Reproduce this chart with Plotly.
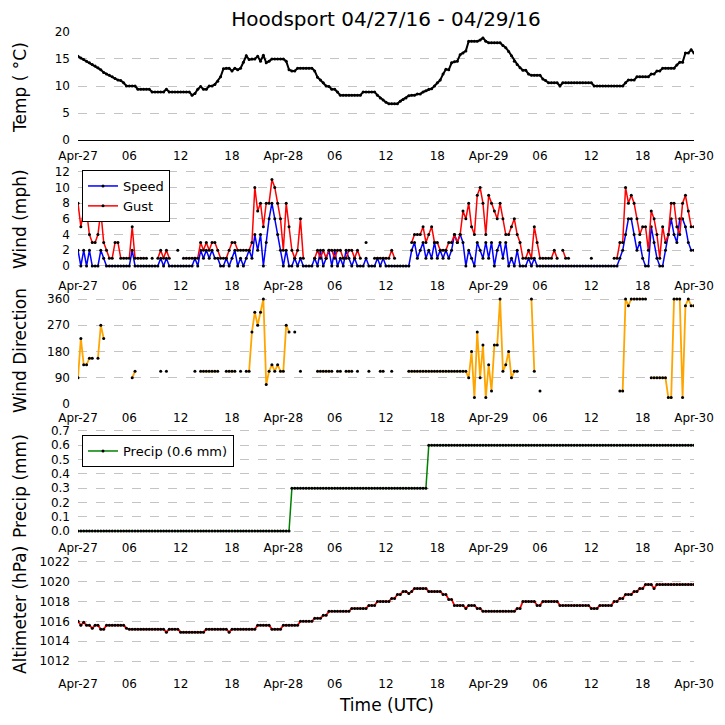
"""
Hoodsport station plot: temp, wind, wind direction, precip, altimeter.
"""

import pandas as pd
import plotly.graph_objects as go

N = None

# 20-minute samples from 2016-04-27 00:00 UTC to 2016-04-30 00:00 UTC (one row per hour)
temp_c = [
    15.5, 15.2, 14.9, 14.6, 14.3, 14.0, 13.7, 13.4, 13.0, 12.5, 12.2, 12.0,
    11.7, 11.4, 11.1, 11.0, 10.6, 10.0, 10.0, 10.0, 10.0, 9.4, 9.4, 9.4,
    9.4, 9.4, 8.9, 8.9, 8.9, 8.9, 8.9, 9.4, 8.9, 8.9, 8.9, 8.9,
    8.9, 8.9, 8.9, 8.9, 8.3, 8.6, 9.4, 9.9, 9.4, 9.4, 10.0, 10.0,
    10.3, 10.9, 11.7, 13.2, 13.3, 13.3, 12.8, 13.3, 13.0, 13.3, 14.4, 15.6,
    14.9, 15.0, 15.0, 15.5, 14.6, 15.7, 14.3, 14.6, 15.0, 15.0, 15.0, 15.0,
    15.0, 14.6, 13.0, 12.8, 12.8, 13.3, 13.3, 13.3, 13.3, 13.3, 13.3, 12.8,
    11.6, 11.1, 10.6, 10.0, 9.9, 9.4, 9.4, 8.9, 8.3, 8.3, 8.3, 8.3,
    8.3, 8.3, 8.3, 8.3, 8.9, 8.9, 8.9, 8.9, 8.9, 8.3, 7.8, 7.4,
    7.0, 6.7, 6.7, 6.7, 6.7, 7.2, 7.5, 7.8, 8.2, 8.3, 8.3, 8.5,
    8.5, 8.9, 9.1, 9.4, 9.5, 10.0, 10.6, 11.1, 12.2, 13.1, 13.0, 14.3,
    14.5, 14.6, 15.8, 16.1, 16.5, 18.3, 18.3, 18.3, 18.3, 18.5, 18.9, 18.3,
    18.0, 18.0, 18.0, 18.0, 18.0, 17.5, 17.1, 16.4, 15.6, 14.6, 14.0, 13.4,
    12.9, 12.9, 12.2, 12.0, 12.0, 12.0, 12.0, 11.3, 11.0, 10.6, 10.6, 10.6,
    10.6, 10.0, 10.6, 10.6, 10.6, 10.6, 10.6, 10.6, 10.6, 10.6, 10.6, 10.6,
    10.6, 10.0, 10.0, 10.0, 10.0, 10.0, 10.0, 10.0, 10.0, 10.0, 10.0, 10.0,
    10.6, 11.1, 11.1, 11.1, 11.7, 11.7, 11.7, 11.7, 11.7, 12.2, 12.2, 12.8,
    12.8, 13.3, 13.3, 13.3, 13.3, 13.3, 13.9, 14.4, 14.4, 16.1, 16.1, 16.7,
    16.1,
]

wind_speed = [
    2, 0, 2, 0, 2, 0, 0, 0, 2, 1, 0, 0, 0, 0, 0, 0, 0, 0,
    0, 2, 0, 0, 0, 0, 0, 0, 0, 0, 0, 1, 0, 1, 0, 0, 0, 0,
    0, 0, 0, 0, 0, 1, 0, 2, 1, 2, 1, 2, 1, 1, 0, 0, 1, 0,
    1, 2, 0, 1, 0, 1, 2, 1, 4, 2, 4, 0, 3, 6, 8, 6, 4, 2,
    0, 2, 0, 0, 1, 0, 1, 0, 0, 0, 0, 1, 0, 2, 0, 1, 2, 0,
    2, 0, 1, 0, 2, 1, 0, 1, 0, 0, 0, 1, 0, 0, 0, 1, 0, 1,
    0, 0, 0, 0, 0, 0, 0, 0, 0, 2, 3, 1, 2, 3, 1, 2, 1, 3,
    1, 2, 1, 2, 1, 2, 4, 3, 4, 3, 0, 2, 1, 0, 3, 2, 1, 3,
    1, 3, 0, 2, 3, 1, 3, 0, 1, 0, 2, 0, 0, 0, 1, 0, 1, 0,
    0, 0, 0, 0, 0, 0, 0, 0, 0, 0, 0, 0, 0, 0, 0, 0, 0, 0,
    0, 0, 0, 0, 0, 0, 0, 0, 0, 0, 1, 2, 4, 6, 6, 4, 2, 3,
    1, 0, 0, 5, 3, 1, 0, 0, 2, 4, 6, 4, 3, 6, 6, 5, 3, 2,
    2,
]

wind_gust = [
    8, 5, 7, 7, 4, 3, 3, 4, 7, 3, 2, 1, 1, 3, 3, 1, 1, 1,
    1, 5, 1, 1, 1, 1, 1, N, 1, N, 1, 2, 1, 2, 1, N, N, 2,
    N, 1, 1, 1, 1, 1, 1, 3, 2, 3, 2, 3, 3, 2, 1, 1, 1, 2,
    3, 3, 2, 2, 2, 2, 2, 3, 10, 7, 8, 5, 8, 8, 11, 10, 8, 6,
    2, 8, 5, 2, 1, 2, 6, 1, N, N, N, 1, 2, 1, 2, 1, 2, 2,
    1, 2, 2, 1, 1, 2, 2, 1, 2, 1, N, 3, N, N, 1, 1, 1, 1,
    1, 1, 2, 1, N, N, N, N, N, 3, 4, 4, 4, 5, 3, 4, 5, 3,
    3, 2, 2, 2, 3, 3, 4, 3, 4, 7, 6, 8, 5, 4, 9, 10, 8, 4,
    9, 8, 7, 6, 8, 6, 4, 4, 5, 6, 4, 3, 1, 1, 2, 1, 5, 3,
    1, 1, 1, 1, 1, 2, 1, N, 2, 1, 1, N, N, N, N, N, N, N,
    1, N, N, N, N, N, N, N, 1, 1, 3, 3, 10, 8, 9, 8, 6, 4,
    5, 5, 2, 7, 6, 4, 1, 5, 3, 4, 8, 8, 5, 4, 8, 9, 7, 5,
    5,
]

wind_dir = [
    90, 225, 135, 135, 157, 157, N, 157, 270, 225, N, N, N, N, N, N, N, N,
    N, 90, 112, N, N, N, N, N, N, N, N, 112, N, 112, N, N, N, N,
    N, N, N, N, N, 112, N, 112, 112, 112, 112, 112, 112, 112, N, N, 112, 112,
    112, 112, N, 112, N, 112, 112, 247, 315, 270, 315, 360, 67, 112, 135, 112, 135, 112,
    112, 270, 247, N, 247, N, 112, N, N, N, N, N, 112, 112, 112, 112, 112, 112,
    N, 112, 112, N, 112, 112, 112, N, 112, N, N, N, 112, N, N, N, 112, 112,
    N, N, 112, N, N, N, N, N, 112, 112, 112, 112, 112, 112, 112, 112, 112, 112,
    112, 112, 112, 112, 112, 112, 112, 112, 112, 112, 112, 90, 180, 22, 247, 90, 202, 22,
    135, 45, 202, 202, 360, 112, 135, 180, 90, 112, 112, N, N, N, N, 360, 112, N,
    45, N, N, N, N, N, N, N, N, N, N, N, N, N, N, N, N, N,
    N, N, N, N, N, N, N, N, N, N, 45, 45, 360, 337, 360, 360, 360, 360,
    360, 360, N, 90, 90, 90, 90, 90, 90, 22, 22, 360, 360, 360, 22, 337, 360, 337,
    337,
]

precip_mm = [
    0.0, 0.0, 0.0, 0.0, 0.0, 0.0, 0.0, 0.0, 0.0, 0.0, 0.0, 0.0,
    0.0, 0.0, 0.0, 0.0, 0.0, 0.0, 0.0, 0.0, 0.0, 0.0, 0.0, 0.0,
    0.0, 0.0, 0.0, 0.0, 0.0, 0.0, 0.0, 0.0, 0.0, 0.0, 0.0, 0.0,
    0.0, 0.0, 0.0, 0.0, 0.0, 0.0, 0.0, 0.0, 0.0, 0.0, 0.0, 0.0,
    0.0, 0.0, 0.0, 0.0, 0.0, 0.0, 0.0, 0.0, 0.0, 0.0, 0.0, 0.0,
    0.0, 0.0, 0.0, 0.0, 0.0, 0.0, 0.0, 0.0, 0.0, 0.0, 0.0, 0.0,
    0.0, 0.0, 0.0, 0.3, 0.3, 0.3, 0.3, 0.3, 0.3, 0.3, 0.3, 0.3,
    0.3, 0.3, 0.3, 0.3, 0.3, 0.3, 0.3, 0.3, 0.3, 0.3, 0.3, 0.3,
    0.3, 0.3, 0.3, 0.3, 0.3, 0.3, 0.3, 0.3, 0.3, 0.3, 0.3, 0.3,
    0.3, 0.3, 0.3, 0.3, 0.3, 0.3, 0.3, 0.3, 0.3, 0.3, 0.3, 0.3,
    0.3, 0.3, 0.3, 0.6, 0.6, 0.6, 0.6, 0.6, 0.6, 0.6, 0.6, 0.6,
    0.6, 0.6, 0.6, 0.6, 0.6, 0.6, 0.6, 0.6, 0.6, 0.6, 0.6, 0.6,
    0.6, 0.6, 0.6, 0.6, 0.6, 0.6, 0.6, 0.6, 0.6, 0.6, 0.6, 0.6,
    0.6, 0.6, 0.6, 0.6, 0.6, 0.6, 0.6, 0.6, 0.6, 0.6, 0.6, 0.6,
    0.6, 0.6, 0.6, 0.6, 0.6, 0.6, 0.6, 0.6, 0.6, 0.6, 0.6, 0.6,
    0.6, 0.6, 0.6, 0.6, 0.6, 0.6, 0.6, 0.6, 0.6, 0.6, 0.6, 0.6,
    0.6, 0.6, 0.6, 0.6, 0.6, 0.6, 0.6, 0.6, 0.6, 0.6, 0.6, 0.6,
    0.6, 0.6, 0.6, 0.6, 0.6, 0.6, 0.6, 0.6, 0.6, 0.6, 0.6, 0.6,
    0.6,
]

altimeter_hpa = [
    1016.0, 1015.6, 1015.9, 1015.6, 1015.6, 1015.3, 1015.6, 1015.6, 1015.2,
    1015.2, 1015.6, 1015.6, 1015.6, 1015.6, 1015.6, 1015.6, 1015.6, 1015.3,
    1015.2, 1015.2, 1015.2, 1015.2, 1015.2, 1015.2, 1015.2, 1015.2, 1015.2,
    1015.2, 1015.2, 1015.2, 1015.2, 1014.9, 1015.2, 1015.2, 1015.2, 1015.2,
    1014.9, 1014.9, 1014.9, 1014.9, 1014.9, 1014.9, 1014.9, 1014.9, 1014.9,
    1015.2, 1015.2, 1015.2, 1015.2, 1015.2, 1015.2, 1015.2, 1015.2, 1014.9,
    1015.2, 1015.2, 1015.2, 1015.2, 1015.2, 1015.2, 1015.2, 1015.2, 1015.2,
    1015.6, 1015.6, 1015.6, 1015.6, 1015.6, 1015.2, 1015.2, 1015.2, 1015.2,
    1015.6, 1015.6, 1015.6, 1015.6, 1015.6, 1015.6, 1016.0, 1016.0, 1016.0,
    1016.0, 1016.0, 1016.3, 1016.3, 1016.3, 1016.6, 1016.6, 1017.0, 1017.0,
    1017.0, 1017.0, 1017.0, 1017.0, 1017.0, 1017.0, 1017.3, 1017.3, 1017.3,
    1017.3, 1017.3, 1017.3, 1017.6, 1017.6, 1017.6, 1018.0, 1018.0, 1018.0,
    1018.0, 1018.0, 1018.3, 1018.3, 1018.7, 1018.7, 1019.0, 1019.0, 1018.8,
    1019.0, 1019.3, 1019.3, 1019.3, 1019.3, 1019.3, 1019.0, 1019.0, 1019.0,
    1019.0, 1019.0, 1018.7, 1018.7, 1018.2, 1018.2, 1017.6, 1017.6, 1017.6,
    1017.6, 1017.3, 1017.6, 1017.6, 1017.6, 1017.3, 1017.3, 1017.0, 1017.0,
    1017.0, 1017.0, 1017.0, 1017.0, 1017.0, 1017.0, 1017.0, 1017.0, 1017.0,
    1017.0, 1017.3, 1017.3, 1018.0, 1018.0, 1018.0, 1018.0, 1018.0, 1017.6,
    1017.6, 1018.0, 1018.0, 1018.0, 1018.0, 1018.0, 1018.0, 1017.6, 1017.6,
    1017.6, 1017.6, 1017.6, 1017.6, 1017.6, 1017.6, 1017.6, 1017.6, 1017.6,
    1017.3, 1017.3, 1017.3, 1017.6, 1017.6, 1017.6, 1017.6, 1017.6, 1018.0,
    1018.0, 1018.3, 1018.3, 1018.7, 1018.7, 1018.7, 1019.0, 1019.0, 1019.3,
    1019.3, 1019.7, 1019.7, 1019.7, 1019.3, 1019.7, 1019.7, 1019.7, 1019.7,
    1019.7, 1019.7, 1019.7, 1019.7, 1019.7, 1019.7, 1019.7, 1019.7, 1019.7,
    1019.7,
]

tick_labels = ["Apr-27", "06", "12", "18", "Apr-28", "06", "12", "18",
               "Apr-29", "06", "12", "18", "Apr-30"]

times = pd.date_range("2016-04-27 00:00", periods=len(temp_c), freq="20min")
tick_vals = pd.date_range("2016-04-27 00:00", periods=len(tick_labels), freq="6h")

FONT = "DejaVu Sans"
GRID = "#c4c4c4"
dot = dict(color="black", size=3)

fig = go.Figure()

fig.add_trace(go.Scatter(x=times, y=temp_c, mode="lines+markers",
                         line=dict(color="black", width=2), marker=dot,
                         showlegend=False, xaxis="x", yaxis="y"))
fig.add_trace(go.Scatter(x=times, y=wind_speed, name="Speed", mode="lines+markers",
                         line=dict(color="blue", width=1.5), marker=dot,
                         xaxis="x2", yaxis="y2", legend="legend"))
fig.add_trace(go.Scatter(x=times, y=wind_gust, name="Gust", mode="lines+markers",
                         line=dict(color="red", width=1.5), marker=dot,
                         xaxis="x2", yaxis="y2", legend="legend"))
fig.add_trace(go.Scatter(x=times, y=wind_dir, mode="lines+markers",
                         line=dict(color="orange", width=1.8), marker=dot,
                         showlegend=False, xaxis="x3", yaxis="y3"))
fig.add_trace(go.Scatter(x=times, y=precip_mm, name="Precip (0.6 mm)", mode="lines+markers",
                         line=dict(color="green", width=1.5), marker=dot,
                         xaxis="x4", yaxis="y4", legend="legend2"))
fig.add_trace(go.Scatter(x=times, y=altimeter_hpa, mode="lines+markers",
                         line=dict(color="red", width=1.8), marker=dot,
                         showlegend=False, xaxis="x5", yaxis="y5"))


def xax(anchor, line=False):
    return dict(anchor=anchor, domain=[0, 1],
                range=[tick_vals[0], tick_vals[-1]],
                tickmode="array", tickvals=list(tick_vals), ticktext=tick_labels,
                showgrid=False, zeroline=False, ticks="",
                showline=line, linecolor="black", linewidth=1,
                ticklabelstandoff=5,
                tickfont=dict(size=12, color="black"))


def yax(anchor, domain, rng, dtick, fmt=None):
    d = dict(anchor=anchor, domain=domain, range=rng, dtick=dtick,
             tick0=0 if rng[0] < 100 else 1012,
             showgrid=True, gridcolor=GRID, griddash="dash", gridwidth=1,
             zeroline=False, ticks="", showline=False,
             ticklabelstandoff=7,
             tickfont=dict(size=12, color="black"))
    if fmt:
        d["tickformat"] = fmt
    return d


# the page has an 8px body margin, so the figure is drawn 8px smaller and offset
fig.update_layout(
    width=717, height=717,
    margin=dict(l=70, r=31, t=20, b=55),
    paper_bgcolor="white", plot_bgcolor="white",
    font=dict(family=FONT, color="black"),
    title=dict(text="Hoodsport 04/27/16 - 04/29/16", x=0.5, xref="paper",
               y=1 - 11 / 717, yanchor="middle", font=dict(size=20)),
    xaxis=xax("y", line=True),
    xaxis2=xax("y2"),
    xaxis3=xax("y3"),
    xaxis4=xax("y4"),
    xaxis5=xax("y5"),
    yaxis=yax("x", [0.8255, 0.9938], [0, 20], 5),
    yaxis2=yax("x2", [0.6195, 0.7798], [-0.8, 12.3], 2),
    yaxis3=yax("x3", [0.4143, 0.5824], [0, 370], 90),
    yaxis4=yax("x4", [0.2120, 0.3768], [-0.02, 0.72], 0.1, ".1f"),
    yaxis5=yax("x5", [0.0, 0.1734], [1011.1, 1022.3], 2),
    legend=dict(x=0.0065, y=0.7788, xanchor="left", yanchor="top",
                bgcolor="white", bordercolor="black", borderwidth=1,
                font=dict(size=13)),
    legend2=dict(x=0.0065, y=0.366, xanchor="left", yanchor="top",
                 bgcolor="white", bordercolor="black", borderwidth=1,
                 font=dict(size=13)),
)

titles = [("Temp ( °C)", 0.908), ("Wind (mph)", 0.7025), ("Wind Direction", 0.4984),
          ("Precip (mm)", 0.2866), ("Altimeter (hPa)", 0.0935)]
for text, ypos in titles:
    fig.add_annotation(text=text, x=-0.0943, y=ypos, xref="paper", yref="paper",
                       textangle=-90, showarrow=False, xanchor="center", yanchor="middle",
                       font=dict(size=17))
fig.add_annotation(text="Time (UTC)", x=0.5, y=-0.0545, xref="paper", yref="paper",
                   showarrow=False, xanchor="center", yanchor="middle",
                   font=dict(size=17))

fig.write_html("out.html")
